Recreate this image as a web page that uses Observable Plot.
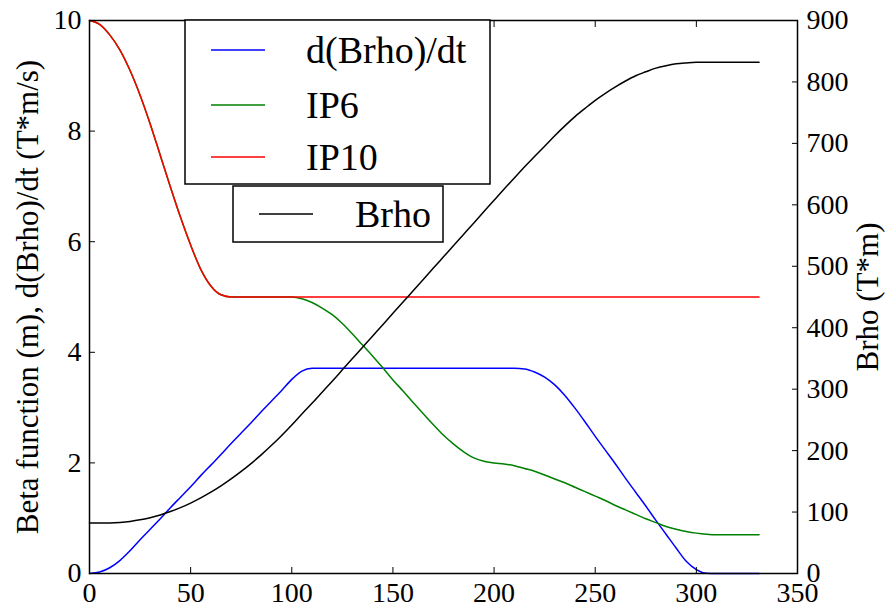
<!DOCTYPE html>
<html>
<head>
<meta charset="utf-8">
<script src="https://cdn.jsdelivr.net/npm/d3@7"></script>
<script src="https://cdn.jsdelivr.net/npm/@observablehq/plot@0.6"></script>
<style>
  html, body { margin: 0; padding: 0; background: #fff; }
  #wrap { position: relative; width: 890px; height: 609px; }
  #wrap svg, #wrap svg text {
    font-family: "Times New Roman", Times, "Liberation Serif", Tinos, "Noto Serif", "DejaVu Serif", FreeSerif, serif !important;
  }
  #legend { position: absolute; left: 0; top: 0; pointer-events: none; }
</style>
</head>
<body>
<div id="wrap"></div>
<script>
// Time axis samples
const t = [0, 5, 10, 15, 20, 25, 30, 35, 40, 45, 50, 55, 60, 65, 70, 75, 80, 85, 90, 95,
  100, 105, 110, 115, 120, 125, 130, 135, 140, 145, 150, 155, 160, 165, 170, 175, 180, 185, 190, 195,
  200, 205, 210, 215, 220, 225, 230, 235, 240, 245, 250, 255, 260, 265, 270, 275, 280, 285, 290, 295,
  300, 305, 310, 315, 320, 325, 331];

// d(Brho)/dt (T*m/s), left axis
const dBrhoDt = [0, 0.026, 0.104, 0.234, 0.41, 0.61, 0.80, 0.99, 1.19, 1.38, 1.57, 1.77, 1.96, 2.15, 2.35, 2.54, 2.73, 2.93, 3.12, 3.31,
  3.51, 3.66, 3.71, 3.71, 3.71, 3.71, 3.71, 3.71, 3.71, 3.71, 3.71, 3.71, 3.71, 3.71, 3.71, 3.71, 3.71, 3.71, 3.71, 3.71,
  3.71, 3.71, 3.71, 3.70, 3.645, 3.55, 3.41, 3.22, 2.99, 2.74, 2.48, 2.23, 1.98, 1.72, 1.47, 1.22, 0.96, 0.71, 0.46, 0.22,
  0.07, 0.005, 0, 0, 0, 0, 0];

// Beta function at IP6 (m), left axis
const ip6 = [10, 9.93, 9.74, 9.47, 9.1, 8.65, 8.13, 7.56, 6.99, 6.44, 5.94, 5.5, 5.2, 5.04, 5.0, 5.0, 5.0, 5.0, 5.0, 5.0,
  5.0, 4.97, 4.9, 4.8, 4.68, 4.52, 4.33, 4.13, 3.93, 3.72, 3.5, 3.3, 3.09, 2.89, 2.69, 2.5, 2.34, 2.2, 2.09, 2.03,
  2.0, 1.98, 1.95, 1.9, 1.85, 1.78, 1.71, 1.64, 1.56, 1.48, 1.4, 1.32, 1.23, 1.15, 1.07, 0.99, 0.92, 0.85, 0.8, 0.76,
  0.73, 0.71, 0.7, 0.7, 0.7, 0.7, 0.7];

// Beta function at IP10 (m), left axis
const ip10 = [10, 9.93, 9.74, 9.47, 9.1, 8.65, 8.13, 7.56, 6.99, 6.44, 5.94, 5.5, 5.2, 5.04, 5.0, 5.0, 5.0, 5.0, 5.0, 5.0,
  5.0, 5.0, 5.0, 5.0, 5.0, 5.0, 5.0, 5.0, 5.0, 5.0, 5.0, 5.0, 5.0, 5.0, 5.0, 5.0, 5.0, 5.0, 5.0, 5.0,
  5.0, 5.0, 5.0, 5.0, 5.0, 5.0, 5.0, 5.0, 5.0, 5.0, 5.0, 5.0, 5.0, 5.0, 5.0, 5.0, 5.0, 5.0, 5.0, 5.0,
  5.0, 5.0, 5.0, 5.0, 5.0, 5.0, 5.0];

// Magnetic rigidity Brho (T*m), right axis
const brho = [82, 82, 82.3, 83.2, 84.8, 87.3, 90.9, 95.3, 100.8, 107.2, 114.6, 123, 132.3, 142.6, 153.9, 166.1, 179.3, 193.4, 208.6, 224.7,
  241.7, 259.6, 277, 295, 313, 331.4, 349.8, 368.2, 386.6, 405, 423.4, 441.8, 460.2, 478.6, 497, 515.4, 533.8, 552.2, 570.6, 589,
  607.4, 625.8, 643.5, 661.5, 678.5, 695.5, 712.5, 728.5, 743.5, 757, 770, 781.5, 792, 801.5, 810, 816.5, 822.5, 826.5, 829.5, 831,
  832, 832, 832, 832, 832, 832, 832];

// Tick values
const xTicks = [0, 50, 100, 150, 200, 250, 300, 350];
const yTicks = [0, 2, 4, 6, 8, 10];
const brhoTicks = [0, 100, 200, 300, 400, 500, 600, 700, 800, 900];

// Brho shares the plot's y scale through a linear map of its 0–900 range onto 0–10
const brhoToY = d3.scaleLinear().domain([0, 900]).range([0, 10]);

const leftSeries = [
  {name: "d(Brho)/dt", color: "#0000ff", values: dBrhoDt},
  {name: "IP6", color: "#008000", values: ip6},
  {name: "IP10", color: "#ff0000", values: ip10}
];
const rightSeries = [{name: "Brho", color: "#000000", values: brho}];

const rows = s => t.map((x, i) => ({t: x, v: s.values[i]}));
const brhoRows = t.map((x, i) => ({t: x, v: brhoToY(brho[i])}));

const chart = Plot.plot({
  width: 890,
  height: 609,
  marginLeft: 89,
  marginRight: 93,
  marginTop: 20,
  marginBottom: 36,
  x: {domain: [0, 350]},
  y: {domain: [0, 10]},
  style: {fontSize: "28px", background: "white", color: "black", overflow: "visible"},
  marks: [
    ...leftSeries.map(s => Plot.line(rows(s), {x: "t", y: "v", stroke: s.color, strokeWidth: 1.5, curve: "monotone-x"})),
    Plot.line(brhoRows, {x: "t", y: "v", stroke: rightSeries[0].color, strokeWidth: 1.5, curve: "monotone-x"}),
    Plot.axisX({ticks: xTicks, tickSize: -6, tickPadding: 15, tickFormat: d3.format("d"), label: null, fontSize: 28}),
    Plot.axisX({anchor: "top", ticks: xTicks, tickSize: -6, tickFormat: () => "", label: null}),
    Plot.axisY({ticks: yTicks, tickSize: -6, tickPadding: 14, tickFormat: d3.format("d"), label: null, fontSize: 28}),
    Plot.axisY({anchor: "right", ticks: brhoTicks.map(brhoToY), tickSize: -6, tickPadding: 15,
      tickFormat: d => d3.format("d")(Math.round(brhoToY.invert(d))), label: null, fontSize: 28}),
    Plot.frame({stroke: "black", strokeWidth: 1.5}),
    Plot.text(["Beta function (m), d(Brho)/dt (T*m/s)"], {frameAnchor: "left", dx: -61, rotate: -90, textAnchor: "middle", fontSize: 31}),
    Plot.text(["Brho (T*m)"], {frameAnchor: "right", dx: 71, rotate: -90, textAnchor: "middle", fontSize: 31})
  ]
});

const wrap = document.getElementById("wrap");
wrap.appendChild(chart);

// Legend boxes drawn on top of the chart
const leg = d3.select(wrap).append("svg")
  .attr("id", "legend")
  .attr("width", 890).attr("height", 609);

function legendBox(x, y, w, h, entries, lineX0, lineX1, textX, rowY) {
  const g = leg.append("g");
  g.append("rect").attr("x", x).attr("y", y).attr("width", w).attr("height", h)
    .attr("fill", "white").attr("stroke", "black").attr("stroke-width", 1.5);
  entries.forEach((s, i) => {
    const yy = rowY[i];
    g.append("line").attr("x1", lineX0).attr("x2", lineX1).attr("y1", yy).attr("y2", yy)
      .attr("stroke", s.color).attr("stroke-width", 1.5);
    g.append("text").attr("x", textX).attr("y", yy + 13).attr("font-size", 38).attr("fill", "black").text(s.name);
  });
}

legendBox(185, 20, 305, 164, leftSeries, 211, 265, 306, [50, 105, 157]);
legendBox(233, 186, 210, 56, rightSeries, 259, 313, 355, [214]);
</script>
</body>
</html>
